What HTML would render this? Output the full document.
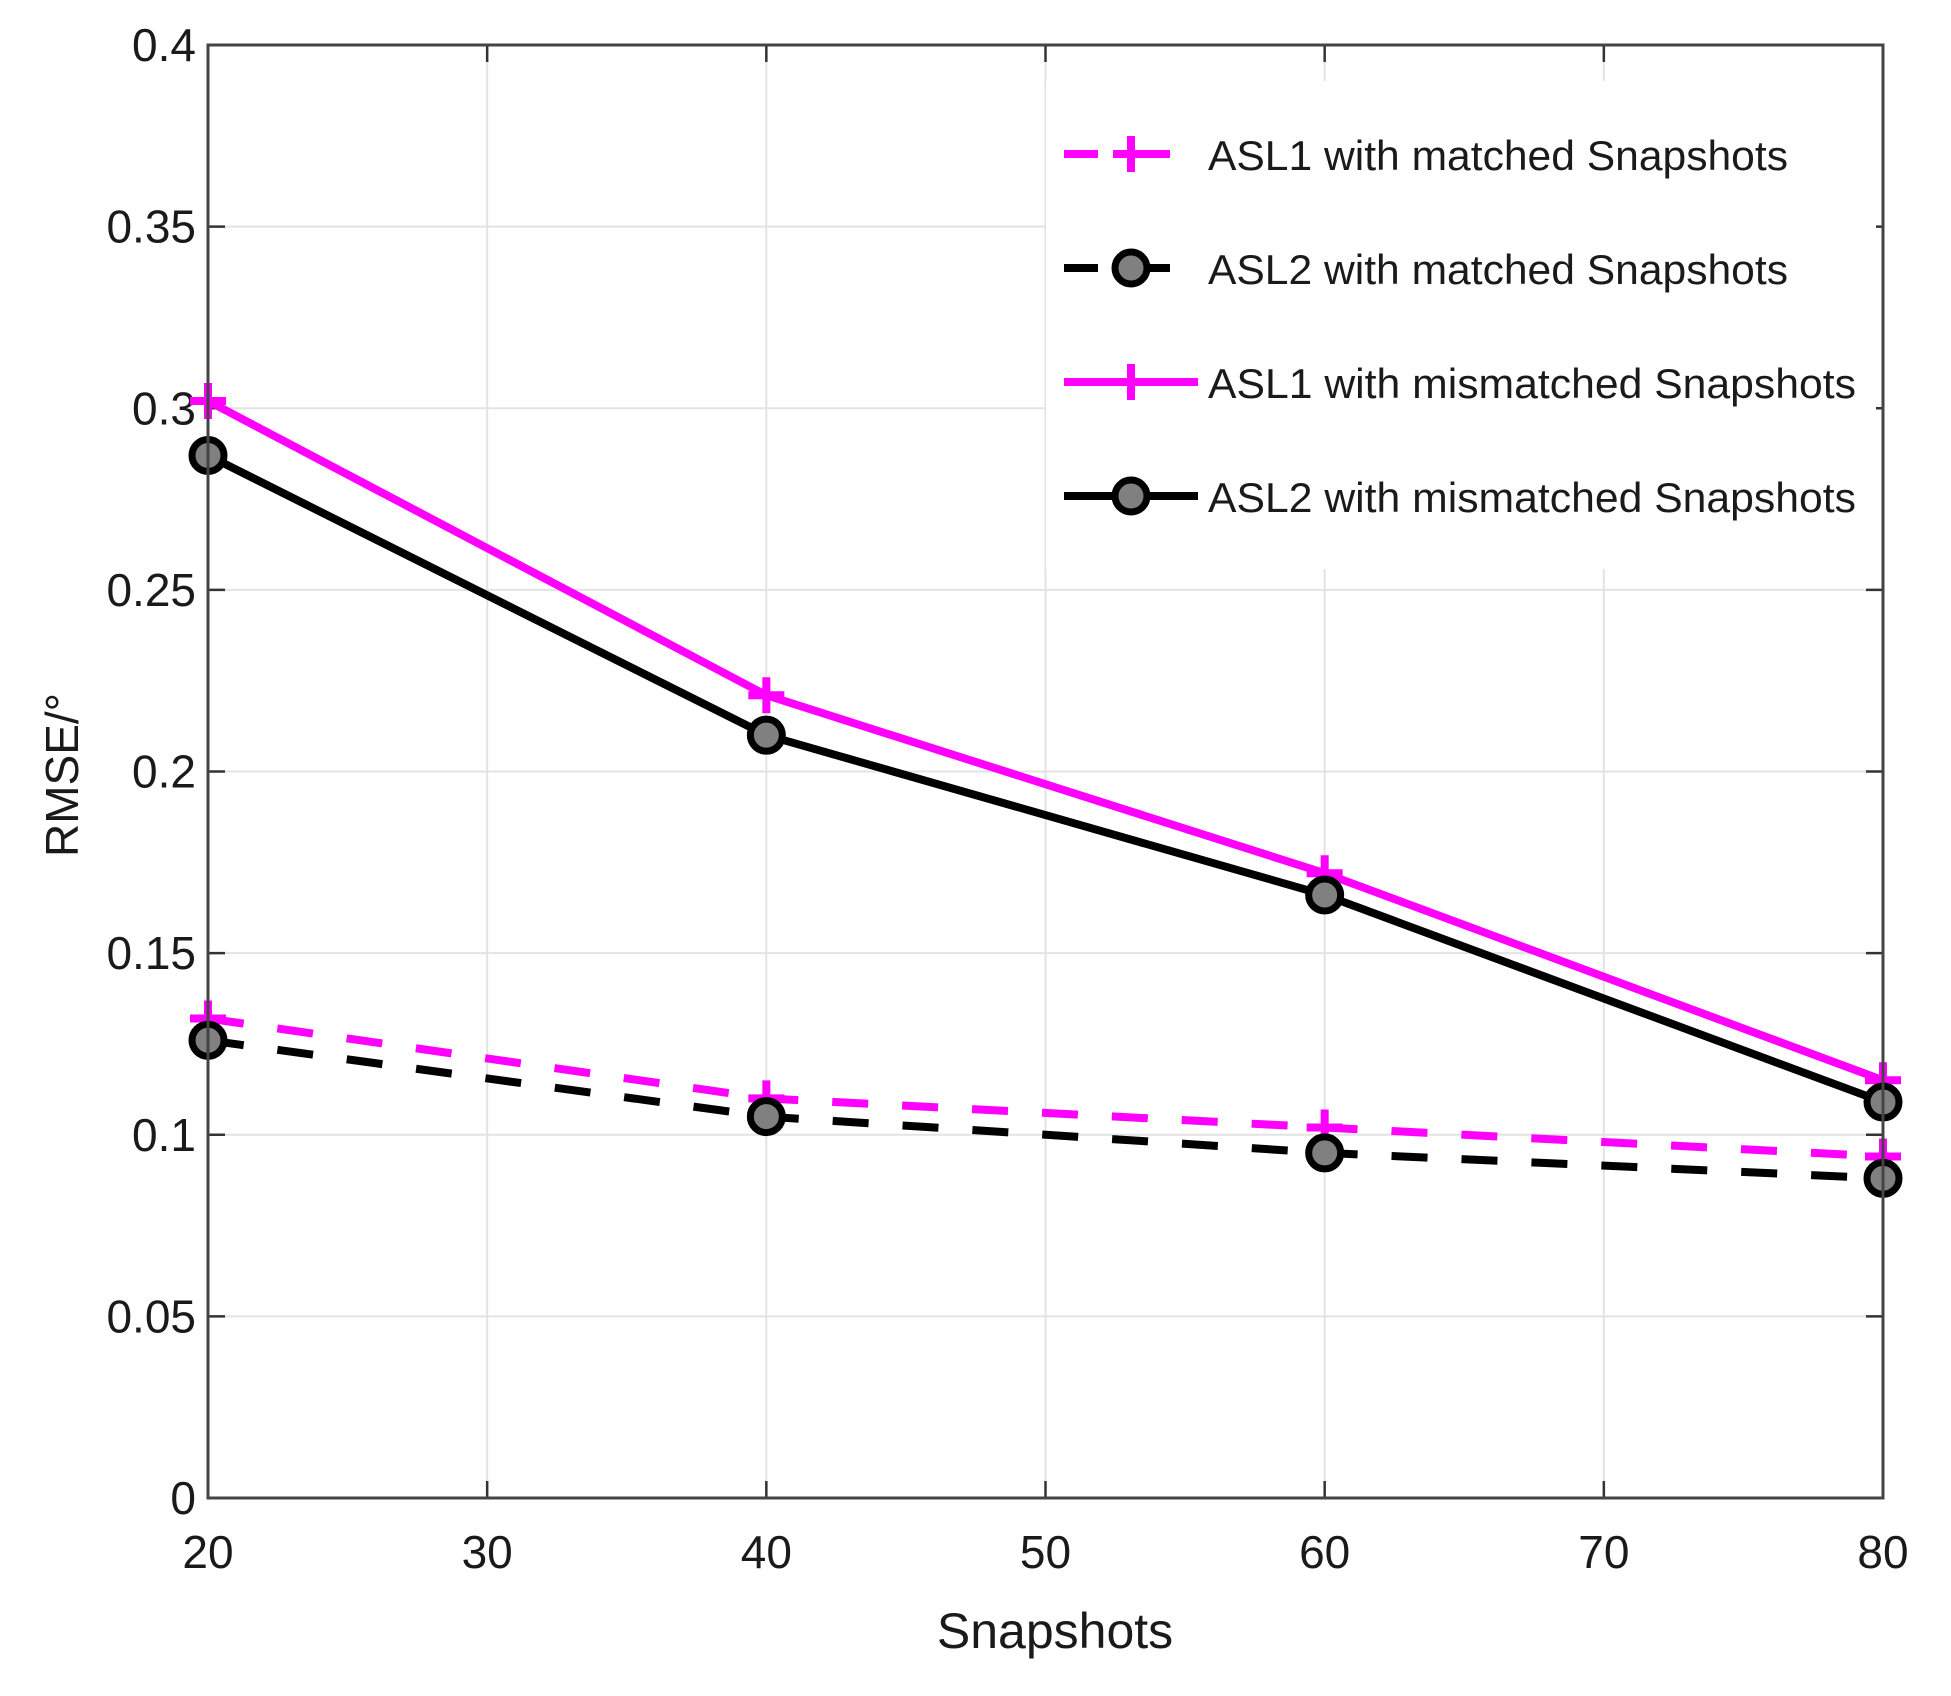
<!DOCTYPE html>
<html><head><meta charset="utf-8"><style>
html,body{margin:0;padding:0;background:#fff}
svg{display:block}
text{font-family:"Liberation Sans",sans-serif;fill:#1a1a1a}
</style></head><body>
<svg id="chart" width="1951" height="1696" viewBox="0 0 1951 1696" xmlns="http://www.w3.org/2000/svg"></svg>
<script>
const categories = [20, 40, 60, 80];
const asl1Matched = [0.132, 0.110, 0.102, 0.094];
const asl2Matched = [0.126, 0.105, 0.095, 0.088];
const asl1Mismatched = [0.302, 0.221, 0.172, 0.115];
const asl2Mismatched = [0.287, 0.210, 0.166, 0.109];
const xTicks = [20, 30, 40, 50, 60, 70, 80];
const yTicks = [0, 0.05, 0.1, 0.15, 0.2, 0.25, 0.3, 0.35, 0.4];
const yTickLabels = ["0", "0.05", "0.1", "0.15", "0.2", "0.25", "0.3", "0.35", "0.4"];
const legendLabels = ["ASL1 with matched Snapshots", "ASL2 with matched Snapshots", "ASL1 with mismatched Snapshots", "ASL2 with mismatched Snapshots"];

const NS = "http://www.w3.org/2000/svg";
const svg = document.getElementById('chart');
const L = 208, R = 1883, T = 45, B = 1498;
const xs = v => L + (v - 20) / 60 * (R - L);
const ys = v => B - v / 0.4 * (B - T);
function mk(tag, attrs, parent) {
  const e = document.createElementNS(NS, tag);
  for (const k in attrs) e.setAttribute(k, attrs[k]);
  (parent || svg).appendChild(e);
  return e;
}
xTicks.forEach(v => {
  const g = mk('line', {x1: xs(v), x2: xs(v), y1: T, y2: B, stroke: '#e3e3e3', 'stroke-width': 2});
  
  
});
yTicks.forEach(v => {
  const g = mk('line', {x1: L, x2: R, y1: ys(v), y2: ys(v), stroke: '#e3e3e3', 'stroke-width': 2});
  
  
});
xTicks.forEach(v => {
  mk('line', {x1: xs(v), x2: xs(v), y1: B, y2: B - 17, stroke: '#333', 'stroke-width': 2.5});
  mk('line', {x1: xs(v), x2: xs(v), y1: T, y2: T + 17, stroke: '#333', 'stroke-width': 2.5});
  const t = mk('text', {x: xs(v), y: B + 70, 'text-anchor': 'middle', 'font-size': 46});
  t.textContent = v;
  
  
});
yTicks.forEach((v, i) => {
  mk('line', {x1: L, x2: L + 17, y1: ys(v), y2: ys(v), stroke: '#333', 'stroke-width': 2.5});
  mk('line', {x1: R, x2: R - 17, y1: ys(v), y2: ys(v), stroke: '#333', 'stroke-width': 2.5});
  const t = mk('text', {x: L - 12, y: ys(v) + 16, 'text-anchor': 'end', 'font-size': 46});
  t.textContent = yTickLabels[i];
  
  
});
const lb = mk('rect', {x: 1046, y: 81, width: 830, height: 488, fill: '#fff'});



const series = [
  {d: asl1Matched, c: '#ff00ff', dash: '36 34', m: 'plus', n: 'asl1-matched'},
  {d: asl2Matched, c: '#000', dash: '36 34', m: 'circle', n: 'asl2-matched'},
  {d: asl1Mismatched, c: '#ff00ff', dash: null, m: 'plus', n: 'asl1-mismatched'},
  {d: asl2Mismatched, c: '#000', dash: null, m: 'circle', n: 'asl2-mismatched'}
];
function marker(type, x, y, c, g) {
  if (type === 'plus') {
    mk('line', {x1: x - 18, x2: x + 18, y1: y, y2: y, stroke: c, 'stroke-width': 8}, g);
    mk('line', {x1: x, x2: x, y1: y - 18, y2: y + 18, stroke: c, 'stroke-width': 8}, g);
  } else {
    mk('circle', {cx: x, cy: y, r: 16, fill: '#808080', stroke: '#000', 'stroke-width': 7}, g);
  }
}
series.forEach(s => {
  const g = mk('g', {});
  
  
  const pts = categories.map((c, i) => xs(c) + ',' + ys(s.d[i])).join(' ');
  const pl = mk('polyline', {points: pts, fill: 'none', stroke: s.c, 'stroke-width': 8, 'stroke-linejoin': 'round'}, g);
  if (s.dash) pl.setAttribute('stroke-dasharray', s.dash);
  
  
  categories.forEach((c, i) => marker(s.m, xs(c), ys(s.d[i]), s.c, g));
});
const box = mk('rect', {x: L, y: T, width: R - L, height: B - T, fill: 'none', stroke: '#444', 'stroke-width': 3});


legendLabels.forEach((lab, i) => {
  const s = series[i];
  const y = 154 + i * 114;
  const g = mk('g', {});
  
  
  const ln = mk('line', {x1: 1064, x2: 1198, y1: y, y2: y, stroke: s.c, 'stroke-width': 8}, g);
  if (s.dash) { ln.setAttribute('x2', 1170); ln.setAttribute('stroke-dasharray', '34 18 60'); }
  marker(s.m, 1131, y, s.c, g);
  const t = mk('text', {x: 1208, y: y + 16, 'font-size': 42}, g);
  t.textContent = lab;
  t.setAttribute('textLength', i >= 2 ? 648 : 580);
  t.setAttribute('lengthAdjust', 'spacingAndGlyphs');
});
const xt = mk('text', {x: 1055, y: 1648, 'text-anchor': 'middle', 'font-size': 50});
xt.textContent = 'Snapshots';


const yt = mk('text', {x: 0, y: 0, 'text-anchor': 'middle', 'font-size': 46, transform: 'translate(78,775) rotate(-90)'});
yt.textContent = 'RMSE/°';


</script>
</body></html>
